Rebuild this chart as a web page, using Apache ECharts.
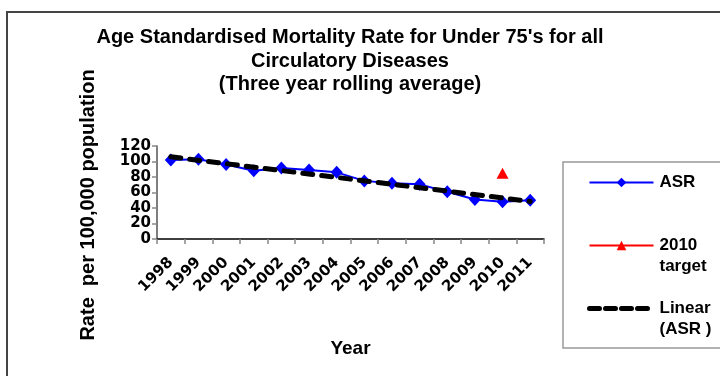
<!DOCTYPE html>
<html>
<head>
<meta charset="utf-8">
<script src="https://cdn.jsdelivr.net/npm/echarts@6/dist/echarts.min.js"></script>
<style>
  html, body { margin: 0; padding: 0; background: #fff; }
  #chart { width: 720px; height: 376px; }
</style>
</head>
<body>
<div id="chart"></div>
<script>
// Years on the category axis
const years = ['1998', '1999', '2000', '2001', '2002', '2003', '2004',
               '2005', '2006', '2007', '2008', '2009', '2010', '2011'];

// Age standardised rate per 100,000 (three year rolling average)
const asr = [102, 103, 96, 88, 91.5, 89, 86, 75, 72, 70.5, 61, 51, 48, 50];

// 2010 target (only the 2010 slot has a value)
const target = [null, null, null, null, null, null, null,
                null, null, null, null, null, 85, null];

// Linear trend of ASR: values at the first and last year
const trend = [106, null, null, null, null, null, null,
               null, null, null, null, null, null, 48.5];

const yTicks = { min: 0, max: 120, interval: 20 };

// Legend labels: a blank line above and below keeps the icon level with the first line
const legendText = {
  'ASR': ' \nASR\n ',
  '2010 target': ' \n2010\ntarget',
  'Linear (ASR )': ' \nLinear\n(ASR )'
};

const chart = echarts.init(document.getElementById('chart'), null, { renderer: 'canvas' });

chart.setOption({
  animation: false,
  backgroundColor: '#ffffff',
  title: {
    text: "Age Standardised Mortality Rate for Under 75's for all\nCirculatory Diseases\n(Three year rolling average)",
    left: 350,
    top: 26,
    textAlign: 'center',
    padding: 0,
    textStyle: {
      fontFamily: 'Liberation Sans, Arial, sans-serif',
      fontWeight: 'bold',
      fontSize: 20,
      lineHeight: 23.5,
      color: '#000'
    }
  },
  graphic: [
    {
      type: 'rect',
      shape: { x: 7, y: 12, width: 760, height: 420 },
      style: { fill: 'none', stroke: '#444', lineWidth: 2 },
      silent: true
    },
    {
      type: 'rect',
      shape: { x: 563, y: 162, width: 200, height: 186 },
      style: { fill: 'none', stroke: '#999', lineWidth: 1.5 },
      silent: true
    }
  ],
  legend: {
    orient: 'vertical',
    left: 587,
    top: 151,
    padding: 0,
    itemGap: 0,
    itemWidth: 64,
    itemHeight: 12,
    data: [
      'ASR',
      '2010 target',
      {
        name: 'Linear (ASR )',
        itemStyle: { color: 'rgba(0,0,0,0)', borderWidth: 0 },
        lineStyle: { width: 5, type: [10, 6], cap: 'round' }
      }
    ],
    formatter: name => legendText[name],
    textStyle: {
      fontFamily: 'Liberation Sans, Arial, sans-serif',
      fontWeight: 'bold',
      fontSize: 17,
      lineHeight: 21,
      color: '#000',
      padding: [0, 0, 0, 1]
    }
  },
  grid: {
    left: 157,
    right: 176,
    top: 146,
    bottom: 137,
    containLabel: false
  },
  xAxis: {
    type: 'category',
    data: years,
    boundaryGap: true,
    name: 'Year',
    nameLocation: 'middle',
    nameGap: 100,
    nameTextStyle: {
      fontFamily: 'Liberation Sans, Arial, sans-serif',
      fontWeight: 'bold',
      fontSize: 19,
      color: '#000'
    },
    axisLine: { lineStyle: { color: '#000', width: 1.5 } },
    axisTick: { show: true, alignWithLabel: false, length: 5, lineStyle: { color: '#888', width: 1.5 } },
    axisLabel: {
      interval: 0,
      rotate: 45,
      margin: 21,
      fontFamily: 'DejaVu Sans, sans-serif',
      fontWeight: 'bold',
      fontSize: 15,
      color: '#000'
    },
    splitLine: { show: false }
  },
  yAxis: {
    type: 'value',
    min: yTicks.min,
    max: yTicks.max,
    interval: yTicks.interval,
    name: 'Rate  per 100,000 population',
    nameLocation: 'middle',
    nameRotate: 90,
    nameGap: 59,
    nameTextStyle: {
      fontFamily: 'Liberation Sans, Arial, sans-serif',
      fontWeight: 'bold',
      fontSize: 20,
      color: '#000',
      padding: [0, 25, 0, 0]
    },
    axisLine: { show: true, lineStyle: { color: '#555', width: 1.5 } },
    axisTick: { show: true, length: 5, lineStyle: { color: '#888', width: 1.5 } },
    axisLabel: {
      margin: 6,
      fontFamily: 'DejaVu Sans, sans-serif',
      fontWeight: 'bold',
      fontSize: 15,
      color: '#000'
    },
    splitLine: { show: false }
  },
  series: [
    {
      name: 'ASR',
      type: 'line',
      data: asr,
      symbol: 'diamond',
      symbolSize: [12, 13],
      lineStyle: { color: '#0000ff', width: 2 },
      itemStyle: { color: '#0000ff' },
      z: 2
    },
    {
      name: '2010 target',
      type: 'line',
      data: target,
      symbol: 'triangle',
      symbolSize: [12, 11],
      showAllSymbol: true,
      lineStyle: { color: '#ff0000', width: 2 },
      itemStyle: { color: '#ff0000' },
      z: 3
    },
    {
      name: 'Linear (ASR )',
      type: 'line',
      data: trend,
      connectNulls: true,
      symbol: 'none',
      lineStyle: { color: '#000', width: 5, type: [10, 9], cap: 'round' },
      itemStyle: { color: '#000' },
      z: 4
    }
  ]
});
</script>
</body>
</html>
